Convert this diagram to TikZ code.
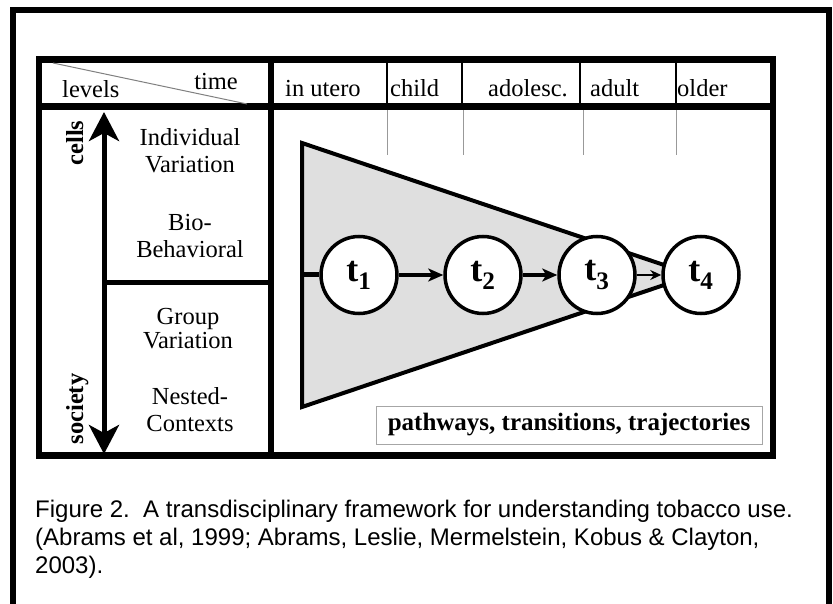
\documentclass[tikz,border=0pt]{standalone}
\usepackage{fontspec}
\setmainfont{Liberation Serif}
\newfontfamily\captionfont{Liberation Sans}
\usetikzlibrary{arrows.meta,shapes.geometric}

\begin{document}
\begin{tikzpicture}[x=1pt,y=-1pt,
  agelabel/.style={anchor=base west,inner sep=0pt,font=\fontsize{24.5}{26}\selectfont},
  levellabel/.style={align=center,inner sep=0pt,font=\fontsize{24.5}{27}\selectfont},
  sidelabel/.style={anchor=base,rotate=90,inner sep=0pt,font=\fontsize{24.5}{26}\selectfont\bfseries},
  stage/.style={ellipse,draw,line width=3.5pt,fill=white,minimum width=76pt,minimum height=77pt,inner sep=0pt,font=\fontsize{36}{36}\selectfont\bfseries},
  thinrule/.style={line width=1.2pt},
  tickrule/.style={gray!80,line width=1pt},
  bigtip/.tip={Stealth[length=29pt,width=30pt,inset=8pt]},
  flowtip/.tip={Stealth[length=15pt,width=13pt,inset=4pt]}]

\useasboundingbox (0,0) rectangle (833,604);
\fill[white] (0,0) rectangle (833,604);

\draw[line width=6pt] (13,604) -- (13,10) -- (829,10) -- (829,604);

\draw[line width=4pt,fill=gray!25] (302,143) -- (667,266) -- (667,284) -- (302,407) -- cycle;

\foreach \x in {387,463,583,676}
  \draw[tickrule] (\x,110) -- (\x,155);
\foreach \x in {387,462,580,676}
  \draw[thinrule] (\x,63) -- (\x,103);

\draw[line width=6.5pt] (39,59.5) rectangle (773,455.5);
\draw[line width=7pt] (39,106.5) -- (773,106.5);
\draw[line width=6pt] (271,59.5) -- (271,455.5);
\draw[line width=5pt] (104,283) -- (271,283);
\draw[gray,line width=1pt] (53,63) -- (247,104);

\node[agelabel] (levels) at (62,98) {levels};
\node[agelabel,anchor=base east] (time) at (238,90) {time};
\node[agelabel] (inutero) at (285,97) {in utero};
\node[agelabel] (child) at (390,97) {child};
\node[agelabel] (adolesc) at (488,97) {adolesc.};
\node[agelabel] (adult) at (590,97) {adult};
\node[agelabel] (older) at (677,97) {older};

\coordinate (cellsend) at (104,112);
\coordinate (societyend) at (104,454);
\draw[line width=5pt,bigtip-bigtip] (societyend) -- (cellsend);
\node[sidelabel] (cells) at (83,143) {cells};
\node[sidelabel] (society) at (83,409) {society};

\node[levellabel] (individual) at (190,151) {Individual\\Variation};
\node[levellabel] (bio) at (190,236) {Bio-\\Behavioral};
\node[levellabel,font=\fontsize{24.5}{24}\selectfont] (group) at (188,329) {Group\\Variation};
\node[levellabel] (nested) at (190,410) {Nested-\\Contexts};

\node[stage] (t1) at (359,275) {t\textsubscript{1}};
\node[stage] (t2) at (483,275) {t\textsubscript{2}};
\node[stage] (t3) at (597,275) {t\textsubscript{3}};
\node[stage] (t4) at (701,275) {t\textsubscript{4}};

\coordinate (entry) at (302,275);
\draw[line width=5pt] (entry) -- (t1);
\draw[line width=4.5pt,-flowtip] (t1) -- (t2);
\draw[line width=4.5pt,-flowtip] (t2) -- (t3);
\draw[line width=2pt,-{Stealth[length=11pt,width=10pt]}] (t3) -- (t4);

\node[draw=gray!70,line width=1pt,minimum width=386pt,minimum height=38pt,inner sep=0pt,font=\fontsize{25}{25}\selectfont\bfseries] (pathbox) at (569,425) {pathways, transitions, trajectories};

\node[anchor=north west,align=left,inner sep=0pt,font=\captionfont\fontsize{24}{28}\selectfont] (caption) at (35,499.5) {Figure 2.\ \ A transdisciplinary framework for understanding tobacco use.\\(Abrams et al, 1999; Abrams, Leslie, Mermelstein, Kobus \& Clayton,\\2003).};

\end{tikzpicture}
\end{document}
